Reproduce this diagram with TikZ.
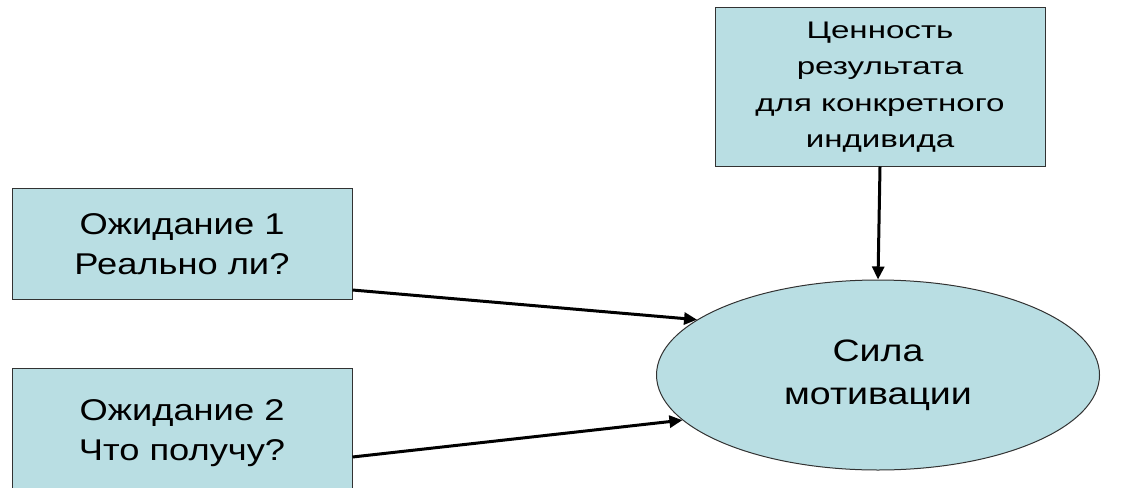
\documentclass[tikz,border=0pt]{standalone}
\usepackage{fontspec}
\setmainfont{Liberation Sans}
\newfontfamily\widefont[FakeStretch=1.21]{Liberation Sans}
\newfontfamily\widerfont[FakeStretch=1.38]{Liberation Sans}
\usetikzlibrary{arrows.meta,shapes.geometric}
\definecolor{boxfill}{RGB}{185,222,227}
\definecolor{boxline}{RGB}{50,50,50}
\begin{document}
\begin{tikzpicture}[x=1pt,y=-1pt,
        box/.style={draw=boxline,fill=boxfill,line width=1pt,align=center,inner sep=0pt},
        link/.style={line width=3pt,-{Triangle[length=13pt,width=12pt]}}]
    \useasboundingbox (0,0) rectangle (1123,487);
    \clip (0,0) rectangle (1123,487);
    \node[box,minimum width=330pt,minimum height=158pt,font=\widerfont\fontsize{24}{36.5}\selectfont] (val) at (880,87) {Ценность\\результата\\для конкретного\\индивида};
    \node[box,minimum width=340pt,minimum height=111pt,font=\widefont\fontsize{30}{40}\selectfont] (exp1) at (182,244) {Ожидание 1\\Реально ли?};
    \node[box,minimum width=340pt,minimum height=130pt,font=\widefont\fontsize{30}{40}\selectfont] (exp2) at (182,433) {Ожидание 2\\Что получу?};
    \node[box,ellipse,minimum width=443pt,minimum height=190pt,font=\widefont\fontsize{31}{43}\selectfont] (mot) at (878,375) {Сила\\мотивации};
    \draw[link] (val.south) -- (mot.north);
    \draw[link] ([yshift=-46pt]exp1.east) -- (mot.163);
    \draw[link] ([yshift=-24pt]exp2.east) -- (mot.193);
\end{tikzpicture}
\end{document}
